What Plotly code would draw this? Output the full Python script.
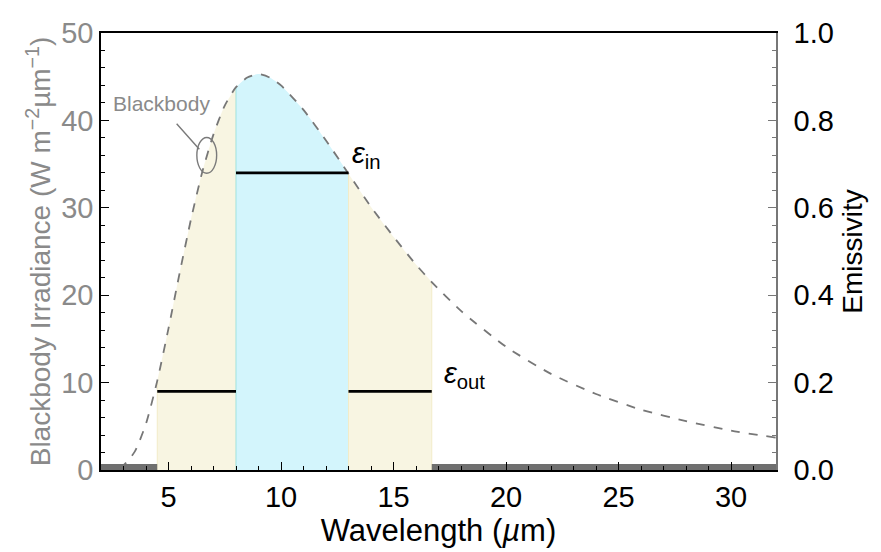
import plotly.graph_objects as go

# Blackbody spectral irradiance curve (wavelength in µm, W m^-2 µm^-1)
wavelength = [2.0, 2.5, 3.0, 3.5, 4.0, 4.5, 5.0, 5.5, 6.0, 6.5, 7.0, 7.5, 8.0,
              8.5, 9.0, 9.5, 10.0, 11.0, 12.0, 13.0, 14.0, 15.0, 16.0, 16.7,
              18.0, 20.0, 22.0, 24.0, 26.0, 28.0, 30.0, 32.0]
irradiance = [0.0, 0.07, 0.55, 2.1, 5.3, 10.2, 16.2, 22.6, 28.7, 34.1, 38.4, 41.7, 43.8,
              44.9, 45.3, 44.9, 44.0, 41.2, 37.7, 33.9, 30.1, 26.7, 23.5, 21.5,
              18.2, 14.1, 11.0, 8.7, 6.9, 5.6, 4.5, 3.7]

# Emissivity profile: piecewise constant bands (start, end, emissivity)
band_start = [2.0, 4.5, 8.0, 13.0, 16.7]
band_end = [4.5, 8.0, 13.0, 16.7, 32.0]
band_emissivity = [0.0, 0.18, 0.68, 0.18, 0.0]

# Shaded spectral windows under the blackbody curve
window_start = [4.5, 8.0, 13.0]
window_end = [8.0, 13.0, 16.7]
window_color = ["rgb(248,245,226)", "rgb(211,245,252)", "rgb(248,245,226)"]
window_edge = ["rgb(242,236,200)", "rgb(160,228,228)", "rgb(242,236,200)"]

FONT = "Liberation Sans, Arial, sans-serif"
GREY_TEXT = "#8a8a8a"

fig = go.Figure()

curve = dict(zip(wavelength, irradiance))

for x0, x1, fc, ec in zip(window_start, window_end, window_color, window_edge):
    xs = [w for w in wavelength if x0 <= w <= x1]
    ys = [curve[w] for w in xs]
    fig.add_trace(go.Scatter(
        x=xs, y=ys, mode="lines",
        line=dict(color="rgba(0,0,0,0)", width=0, shape="spline", smoothing=0.6),
        fill="tozeroy", fillcolor=fc, hoverinfo="skip", showlegend=False))
    for xe in (x0, x1):
        fig.add_trace(go.Scatter(
            x=[xe, xe], y=[0, curve[xe]], mode="lines",
            line=dict(color=ec, width=1), hoverinfo="skip", showlegend=False))

fig.add_trace(go.Scatter(
    x=wavelength, y=irradiance, mode="lines",
    line=dict(color="#777777", width=1.8, dash="dash", shape="spline", smoothing=0.6),
    showlegend=False, name="Blackbody"))

for x0, x1, e in zip(band_start, band_end, band_emissivity):
    if e == 0:
        line = dict(color="#6f6f6f", width=12)
    else:
        line = dict(color="black", width=2.8)
    fig.add_trace(go.Scatter(
        x=[x0, x1], y=[e, e], mode="lines", line=line,
        yaxis="y2", showlegend=False))

# Emissivity labels
eps_in = band_emissivity[2]
eps_out = band_emissivity[3]
fig.add_annotation(x=band_end[2] + 0.05, y=eps_in, xref="x", yref="y2",
                   text="<i>ε</i><sub>in</sub>", showarrow=False,
                   xanchor="left", yanchor="bottom", yshift=-2,
                   font=dict(family=FONT, size=29, color="black"))
fig.add_annotation(x=band_end[3] + 0.45, y=eps_out, xref="x", yref="y2",
                   text="<i>ε</i><sub>out</sub>", showarrow=False,
                   xanchor="left", yanchor="bottom", yshift=-4,
                   font=dict(family=FONT, size=29, color="black"))

# Ellipse marking the blackbody curve, with a leader line to its label
mark_w = 6.7
mark_v = 36.0
fig.add_shape(type="circle", xref="x", yref="y",
              x0=mark_w - 0.44, x1=mark_w + 0.44, y0=mark_v - 2.05, y1=mark_v + 2.05,
              line=dict(color="#7a7a7a", width=1.4))
fig.add_annotation(x=mark_w - 0.33, y=mark_v + 0.7, xref="x", yref="y",
                   ax=-24, ay=-27, showarrow=True, arrowhead=0, arrowwidth=1.4,
                   arrowcolor="#7a7a7a", text="")
fig.add_annotation(x=4.69, y=41.9, xref="x", yref="y", text="Blackbody",
                   showarrow=False, font=dict(family=FONT, size=21, color=GREY_TEXT))

fig.update_layout(
    width=881, height=552,
    margin=dict(l=101, r=105, t=33, b=82),
    paper_bgcolor="white", plot_bgcolor="white",
    font=dict(family=FONT, color="black"),
    xaxis=dict(
        range=[2, 32], tick0=0, dtick=5, ticks="inside", ticklen=8, tickwidth=1.2,
        tickcolor="black", showline=True, linecolor="black", linewidth=1.5,
        mirror=True, showgrid=False, zeroline=False,
        tickfont=dict(family=FONT, size=29, color="black"),
        title=dict(text="Wavelength (<i>µ</i>m)", standoff=4,
                   font=dict(family=FONT, size=31, color="black")),
        minor=dict(dtick=1, ticks="inside", ticklen=4, tickcolor="black", showgrid=False),
    ),
    yaxis=dict(
        range=[0, 50], tick0=0, dtick=10, ticks="inside", ticklen=8, tickwidth=1.2,
        tickcolor="black", showline=True, linecolor="black", linewidth=1.5,
        showgrid=False, zeroline=False,
        tickfont=dict(family=FONT, size=29, color=GREY_TEXT),
        title=dict(text="Blackbody Irradiance (W m<sup>−2</sup>µm<sup>−1</sup>)", standoff=2,
                   font=dict(family=FONT, size=28, color=GREY_TEXT)),
        minor=dict(dtick=2, ticks="inside", ticklen=4, tickcolor="black", showgrid=False),
    ),
    yaxis2=dict(
        range=[0, 1.0], tick0=0, dtick=0.2, tickformat=".1f", overlaying="y", side="right",
        ticks="inside", ticklen=8, tickwidth=1.2, tickcolor="#777777",
        showline=True, linecolor="#777777", linewidth=1.5,
        showgrid=False, zeroline=False, ticklabelstandoff=10,
        tickfont=dict(family=FONT, size=29, color="black"),
        title=dict(text="Emissivity", standoff=10,
                   font=dict(family=FONT, size=28, color="black")),
        minor=dict(dtick=0.04, ticks="inside", ticklen=4, tickcolor="#777777", showgrid=False),
    ),
)

fig.write_html("out.html")
